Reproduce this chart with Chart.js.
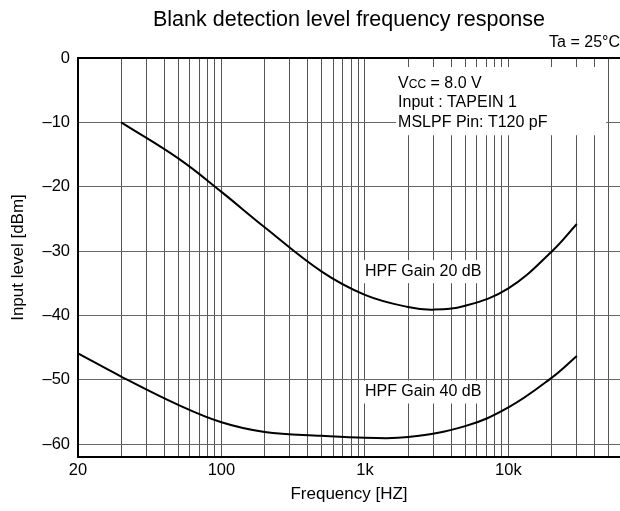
<!DOCTYPE html>
<html lang="en">
<head>
<meta charset="UTF-8">
<title>Blank detection level frequency response</title>
<script src="https://cdn.jsdelivr.net/npm/chart.js@4.4.1/dist/chart.umd.min.js"></script>
<style>
  html, body { margin: 0; padding: 0; background: #fff; }
  #contenedor { width: 620px; height: 511px; }
</style>
</head>
<body>
<div id="contenedor"><canvas id="grafico" width="620" height="511"></canvas></div>
<script>
// Curva HPF Gain 20 dB: frecuencia (Hz) y nivel (dBm)
const frecGain20 = [20, 50, 100, 200, 500, 1000, 2000, 3000, 5000, 10000, 20000, 30000];
const nivelGain20 = [-10.0, -15.6, -20.8, -26.3, -33.2, -36.8, -38.7, -39.1, -38.5, -35.8, -30.1, -25.8];

// Curva HPF Gain 40 dB
const frecGain40 = [10, 20, 50, 100, 200, 500, 1000, 2000, 5000, 10000, 20000, 30000];
const nivelGain40 = [-45.9, -49.5, -53.9, -56.6, -58.1, -58.7, -59.0, -58.9, -57.2, -54.3, -49.7, -46.3];

// Rótulos del eje X (el borde izquierdo está rotulado "20" en el original)
const valoresEjeX = [10, 100, 1000, 10000];
const etiquetasEjeX = ['20', '100', '1k', '10k'];
const valoresEjeY = [0, -10, -20, -30, -40, -50, -60];

const condiciones = ['Input : TAPEIN 1', 'MSLPF Pin: T120 pF'];

// Líneas de la rejilla logarítmica: 1..9 por década
const rejillaX = [];
for (let e = 1; e <= 4; e++) {
    for (let m = 1; m <= 9; m++) {
        const v = m * Math.pow(10, e);
        if (v <= 50000) rejillaX.push(v);
    }
}

const fuente = "'Liberation Sans', Arial, sans-serif";

function puntos(frecs, niveles) {
    return frecs.map((f, i) => ({ x: f, y: niveles[i] }));
}

// Rótulo con fondo blanco que tapa la rejilla
function rotulo(ctx, texto, x, y) {
    ctx.font = `16px ${fuente}`;
    const ancho = ctx.measureText(texto).width;
    ctx.fillStyle = '#fff';
    ctx.fillRect(x - 3, y - 11.5, ancho + 6, 23);
    ctx.fillStyle = '#000';
    ctx.textBaseline = 'middle';
    ctx.textAlign = 'left';
    ctx.fillText(texto, x, y);
}

const textosPlugin = {
    id: 'textos',
    beforeDatasetsDraw(chart) {
        const { ctx, scales } = chart;
        const x = scales.x, y = scales.y;
        ctx.save();

        // Cuadro de condiciones arriba a la derecha
        const izq = x.getPixelForValue(1650);
        const der = x.getPixelForValue(48000);
        const arriba = y.getPixelForValue(-1.4);
        const abajo = y.getPixelForValue(-12.0);
        ctx.fillStyle = '#fff';
        ctx.fillRect(izq, arriba, der - izq, abajo - arriba);

        ctx.fillStyle = '#000';
        ctx.textAlign = 'left';
        ctx.textBaseline = 'alphabetic';
        const tx = izq + 2;
        let base = arriba + 20.5;
        ctx.font = `16px ${fuente}`;
        ctx.fillText('V', tx, base);
        let px = tx + ctx.measureText('V').width;
        ctx.font = `12px ${fuente}`;
        ctx.fillText('CC', px, base);
        px += ctx.measureText('CC').width;
        ctx.font = `16px ${fuente}`;
        ctx.fillText(' = 8.0 V', px, base);
        condiciones.forEach((linea, i) => {
            ctx.fillText(linea, tx, base + 19.5 * (i + 1));
        });

        // Nombres de las curvas
        rotulo(ctx, 'HPF Gain 20 dB', x.getPixelForValue(1000), y.getPixelForValue(-33.2));
        rotulo(ctx, 'HPF Gain 40 dB', x.getPixelForValue(1000), y.getPixelForValue(-51.9));

        ctx.restore();
    }
};

new Chart(document.getElementById('grafico'), {
    type: 'line',
    data: {
        datasets: [{
            label: 'HPF Gain 20 dB',
            data: puntos(frecGain20, nivelGain20),
            borderColor: '#000',
            borderWidth: 2,
            pointRadius: 0,
            tension: 0.4,
            fill: false
        }, {
            label: 'HPF Gain 40 dB',
            data: puntos(frecGain40, nivelGain40),
            borderColor: '#000',
            borderWidth: 2,
            pointRadius: 0,
            tension: 0.4,
            fill: false
        }]
    },
    options: {
        responsive: false,
        animation: false,
        layout: { padding: 0 },
        plugins: {
            legend: { display: false },
            tooltip: { enabled: false },
            title: {
                display: true,
                text: 'Blank detection level frequency response',
                color: '#000',
                fullSize: false,
                font: { family: fuente, size: 21.5, weight: 'normal' },
                padding: { top: 7, bottom: 0 }
            },
            subtitle: {
                display: true,
                text: 'Ta = 25°C',
                align: 'end',
                color: '#000',
                fullSize: false,
                font: { family: fuente, size: 16 },
                padding: { top: 0, bottom: 6 }
            }
        },
        scales: {
            x: {
                type: 'logarithmic',
                min: 10,
                max: 60000,
                afterBuildTicks: scale => {
                    scale.ticks = rejillaX.map(v => ({ value: v }));
                },
                afterFit: scale => { scale.height = 54; },
                ticks: {
                    autoSkip: false,
                    maxRotation: 0,
                    minRotation: 0,
                    padding: 4,
                    color: '#000',
                    font: { family: fuente, size: 16.5 },
                    callback: function(value) {
                        const i = valoresEjeX.indexOf(value);
                        return i >= 0 ? etiquetasEjeX[i] : '';
                    }
                },
                grid: { color: '#555', lineWidth: 1, drawTicks: false },
                border: { color: '#000', width: 2 },
                title: {
                    display: true,
                    text: 'Frequency [HZ]',
                    color: '#000',
                    font: { family: fuente, size: 17 },
                    padding: { top: 0, bottom: 6 }
                }
            },
            y: {
                min: -62,
                max: 0,
                afterBuildTicks: scale => {
                    scale.ticks = valoresEjeY.map(v => ({ value: v }));
                },
                afterFit: scale => { scale.width = 78; },
                ticks: {
                    padding: 8,
                    color: '#000',
                    font: { family: fuente, size: 16.5 },
                    callback: v => v === 0 ? '0' : '–' + Math.abs(v)
                },
                grid: {
                    color: ctx => ctx.tick && ctx.tick.value === 0 ? '#000' : '#666',
                    lineWidth: ctx => ctx.tick && ctx.tick.value === 0 ? 2 : 1,
                    drawTicks: false
                },
                border: { color: '#000', width: 2 },
                title: {
                    display: true,
                    text: 'Input level [dBm]',
                    color: '#000',
                    font: { family: fuente, size: 17 },
                    padding: { top: 8, bottom: 0 }
                }
            }
        }
    },
    plugins: [textosPlugin]
});
</script>
</body>
</html>
